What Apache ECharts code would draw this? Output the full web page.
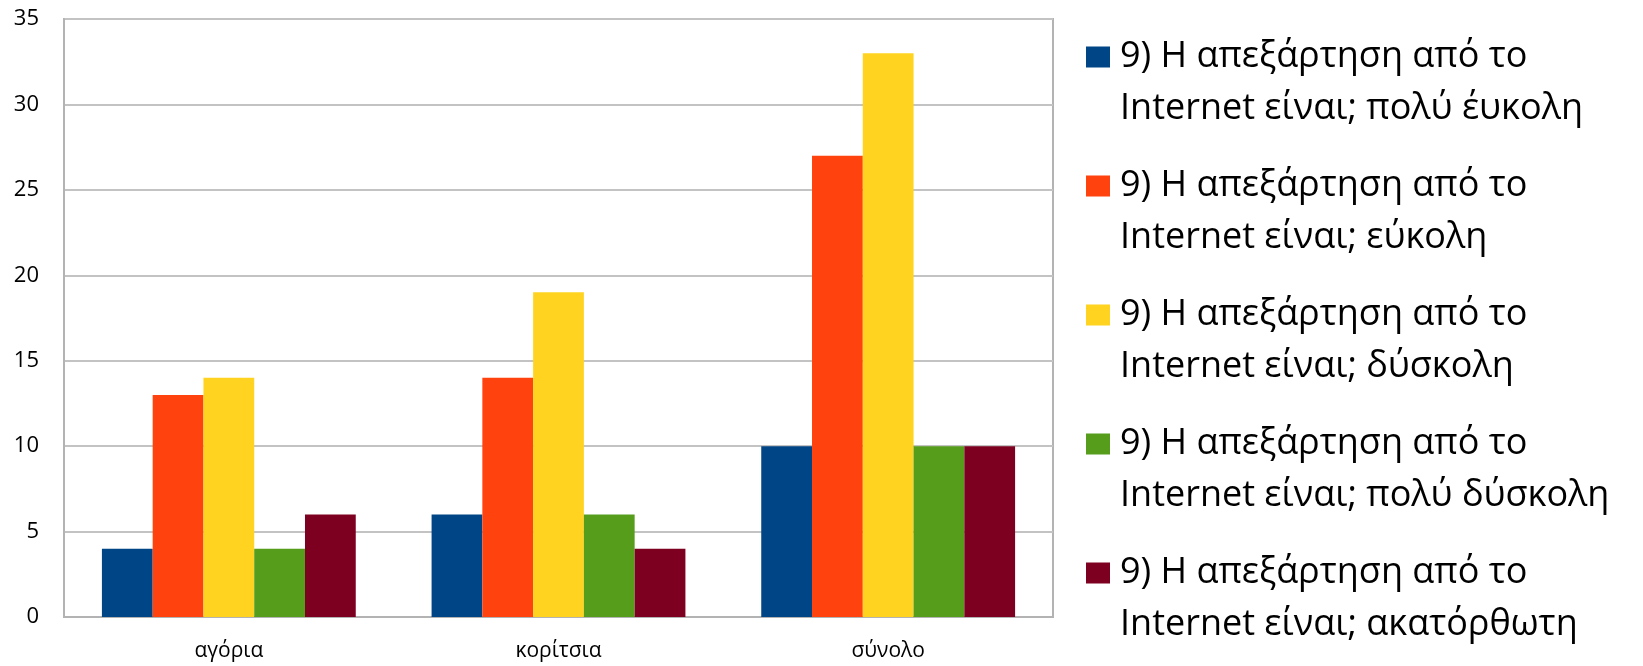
<!DOCTYPE html>
<html>
<head>
<meta charset="utf-8">
<style>
  html, body { margin: 0; padding: 0; background: #ffffff; }
  #chart { width: 1643px; height: 666px; }
</style>
<script src="https://cdn.jsdelivr.net/npm/echarts@6/dist/echarts.min.js"></script>
</head>
<body>
<div id="chart"></div>
<script>
// Groups on the category axis
const categories = ['αγόρια', 'κορίτσια', 'σύνολο'];

// Answer labels, one per series (two-line legend entries)
const seriesNames = [
  '9) Η απεξάρτηση από το\nInternet είναι; πολύ έυκολη',
  '9) Η απεξάρτηση από το\nInternet είναι; εύκολη',
  '9) Η απεξάρτηση από το\nInternet είναι; δύσκολη',
  '9) Η απεξάρτηση από το\nInternet είναι; πολύ δύσκολη',
  '9) Η απεξάρτηση από το\nInternet είναι; ακατόρθωτη'
];

// Counts per answer, in category order
const veryEasy = [4, 6, 10];
const easy = [13, 14, 27];
const hard = [14, 19, 33];
const veryHard = [4, 6, 10];
const impossible = [6, 4, 10];

const seriesColors = ['#004586', '#ff420e', '#ffd320', '#579d1c', '#7e0021'];

// Value axis ticks
const yMin = 0;
const yMax = 35;
const yStep = 5;

const fontFamily = '"Open Sans", "Noto Sans", sans-serif';

// Legend swatch: a square next to the first text line; the two lone move-to
// points stretch the icon box to the full height of the two-line entry.
const legendIcon = 'path://M0 15.5 L24 15.5 L24 36.5 L0 36.5 Z M0 0 M29 104';

const values = [veryEasy, easy, hard, veryHard, impossible];

const chart = echarts.init(document.getElementById('chart'), null, { renderer: 'canvas' });

chart.setOption({
  animation: false,
  backgroundColor: '#ffffff',
  color: seriesColors,
  grid: {
    left: 64,
    top: 19,
    right: 590,
    bottom: 49,
    show: true,
    borderColor: '#b3b3b3',
    borderWidth: 2,
    containLabel: false
  },
  legend: {
    orient: 'vertical',
    left: 1086,
    top: 31,
    padding: 0,
    itemWidth: 29,
    itemHeight: 104,
    itemGap: 25,
    icon: legendIcon,
    textStyle: {
      fontFamily: fontFamily,
      fontSize: 36,
      lineHeight: 52,
      color: '#000000'
    },
    data: seriesNames
  },
  xAxis: {
    type: 'category',
    data: categories,
    axisLine: { lineStyle: { color: '#b3b3b3', width: 2 } },
    axisTick: { show: false },
    axisLabel: {
      color: '#000000',
      fontFamily: fontFamily,
      fontSize: 21,
      margin: 24
    }
  },
  yAxis: {
    type: 'value',
    min: yMin,
    max: yMax,
    interval: yStep,
    axisLine: { show: true, lineStyle: { color: '#b3b3b3', width: 2 } },
    axisTick: { show: false },
    splitLine: { lineStyle: { color: '#c3c3c3', width: 2 } },
    axisLabel: {
      color: '#000000',
      fontFamily: fontFamily,
      fontSize: 22,
      margin: 25
    }
  },
  series: seriesNames.map((name, i) => ({
    name: name,
    type: 'bar',
    data: values[i],
    barGap: '0%',
    barCategoryGap: '23%',
    itemStyle: { color: seriesColors[i] }
  }))
});
</script>
</body>
</html>
